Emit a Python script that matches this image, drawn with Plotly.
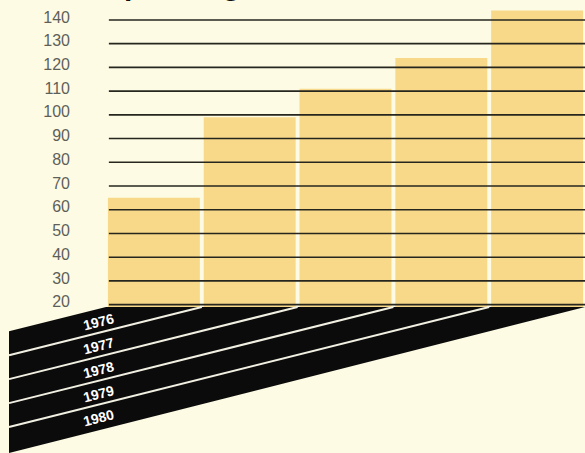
import plotly.graph_objects as go

# Data
years = ["1976", "1977", "1978", "1979", "1980"]
values = [65, 99, 111, 124, 144]
tick_vals = [20, 30, 40, 50, 60, 70, 80, 90, 100, 110, 120, 130, 140]
tick_text = [str(v) for v in tick_vals]

# Canvas / plot geometry (pixels)
W, H = 585, 453
ML, MR, MT, MB = 106, 0, 0, 146
PW, PH = W - ML - MR, H - MT - MB
Y_RANGE = [19, 148.4]
X_RANGE = [-0.5, len(years) - 0.5]

BG = "#FDFBE4"
BAR = "#F8D98A"
INK = "#0b0b0b"


def px_x(p):
    return (p - ML) / PW


def px_y(p):
    return (H - MB - p) / PH


fig = go.Figure()
fig.add_trace(go.Bar(
    x=list(range(len(years))), y=values,
    marker=dict(color=BAR, line=dict(width=0)),
    hoverinfo="skip",
))

shapes = []
# horizontal rules drawn on top of the bars
for v in tick_vals:
    shapes.append(dict(type="line", xref="paper", yref="y", x0=0.006, x1=1, y0=v, y1=v,
                       line=dict(color="#26261e", width=1.6), layer="above"))

# slanted "floor" band under the bars, one strip per year
slope = 0.25
left_px = 9
base_px = H - MB
edges_px = [ML + PW * (k / len(years)) for k in range(len(years) + 1)]


def foot(xe):
    return base_px + slope * (xe - left_px)


band = (f"M {px_x(left_px)} {px_y(foot(edges_px[0]))} "
        f"L {px_x(edges_px[0])} {px_y(base_px)} "
        f"L {px_x(edges_px[-1])} {px_y(base_px)} "
        f"L {px_x(left_px)} {px_y(foot(edges_px[-1]) + 2)} Z")
shapes.append(dict(type="path", xref="paper", yref="paper", path=band,
                   fillcolor=INK, line=dict(width=0), layer="above"))
for xe in edges_px[1:-1]:
    shapes.append(dict(type="line", xref="paper", yref="paper",
                       x0=px_x(xe), y0=px_y(base_px), x1=px_x(left_px), y1=px_y(foot(xe)),
                       line=dict(color="#F2F0E2", width=2), layer="above"))

annotations = []
label_x = 98
for i, yr in enumerate(years):
    mid_edge = (edges_px[i] + edges_px[i + 1]) / 2
    cy = base_px + slope * (mid_edge - label_x) + 1
    annotations.append(dict(xref="paper", yref="paper", x=px_x(label_x), y=px_y(cy),
                            text=f"<b>{yr}</b>", showarrow=False, textangle=-14,
                            font=dict(family="Liberation Sans, Arial", size=14, color="white"),
                            xanchor="center", yanchor="middle"))

# title, mostly above the visible area
annotations.append(dict(xref="paper", yref="paper", x=px_x(102), y=px_y(-15.5),
                        text="<b>Spending</b>", showarrow=False,
                        font=dict(family="Liberation Sans, Arial", size=30, color="#111"),
                        xanchor="left", yanchor="middle"))

fig.update_layout(
    width=W, height=H,
    margin=dict(l=ML, r=MR, t=MT, b=MB, pad=0),
    paper_bgcolor=BG, plot_bgcolor=BG,
    bargap=0.04,
    showlegend=False,
    shapes=shapes,
    annotations=annotations,
    xaxis=dict(visible=False, range=X_RANGE, fixedrange=True),
    yaxis=dict(range=Y_RANGE, tickvals=tick_vals, ticktext=tick_text,
               showgrid=False, zeroline=False, showline=False, ticks="",
               ticklabelstandoff=35, ticklabelshift=-3,
               tickfont=dict(family="Liberation Sans, Arial", size=16, color="#5f5f5a")),
)

fig.write_html("out.html")
